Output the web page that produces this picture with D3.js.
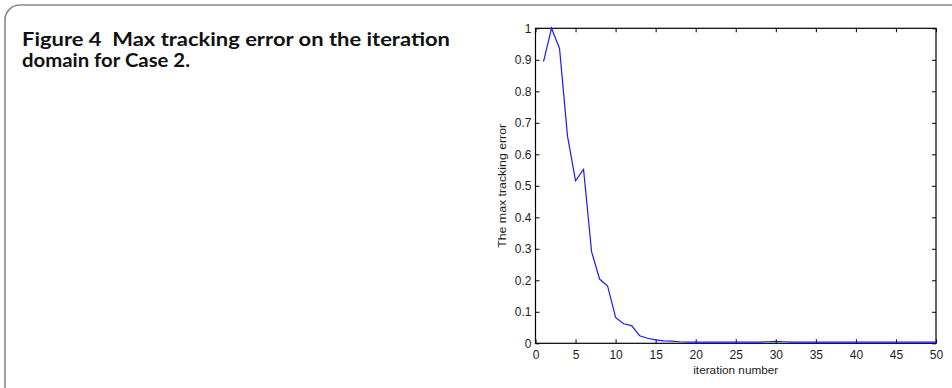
<!DOCTYPE html>
<html><head><meta charset="utf-8">
<script src="https://cdn.jsdelivr.net/npm/d3@7"></script>
<style>html,body{margin:0;padding:0;background:#fff;}svg{display:block;} text{white-space:pre;}</style>
</head><body>
<svg id="c" width="952" height="388"></svg>
<script>
const titleLines = ["Figure 4  Max tracking error on the iteration", "domain for Case 2."];
const iterations = d3.range(1, 51);
const maxError = [0.894, 1.0, 0.936, 0.657, 0.516, 0.552, 0.291, 0.204, 0.182, 0.082,
  0.062, 0.056, 0.024, 0.016, 0.011, 0.008, 0.007, 0.005, 0.004, 0.004,
  0.004, 0.004, 0.004, 0.004, 0.004, 0.004, 0.004, 0.004, 0.005, 0.006,
  0.005, 0.004, 0.004, 0.004, 0.004, 0.004, 0.004, 0.004, 0.004, 0.004,
  0.004, 0.004, 0.004, 0.004, 0.004, 0.004, 0.004, 0.004, 0.004, 0.004];
const xTicks = [0, 5, 10, 15, 20, 25, 30, 35, 40, 45, 50];
const yTicks = [0, 0.1, 0.2, 0.3, 0.4, 0.5, 0.6, 0.7, 0.8, 0.9, 1];
const xLabel = "iteration number";
const yLabel = "The max tracking error";

const svg = d3.select("#c");
// frame
svg.append("path")
  .attr("d", "M5,390 L5,20 A15,15 0 0 1 20,5 L960,5")
  .attr("fill", "none").attr("stroke", "#8a8a8a").attr("stroke-width", 1.6);

const titleWidths = [428, 168];
const t = svg.append("text").attr("font-family", "Lato, 'Open Sans', sans-serif")
  .attr("font-weight", "bold").attr("font-size", 19.5).attr("fill", "#111")
  .attr("xml:space", "preserve");
titleLines.forEach((l, i) =>
  t.append("tspan").attr("x", 22).attr("y", 46 + i * 21)
    .attr("textLength", titleWidths[i]).attr("lengthAdjust", "spacingAndGlyphs").text(l));

const L = 535.5, R = 936, T = 28.3, B = 343.3;
const x = d3.scaleLinear().domain([0, 50]).range([L, R]);
const y = d3.scaleLinear().domain([0, 1]).range([B, T]);
const font = "'Liberation Sans', Arial, sans-serif";

const g = svg.append("g");
g.append("rect").attr("x", L).attr("y", T).attr("width", R - L).attr("height", B - T)
  .attr("fill", "none").attr("stroke", "#000").attr("stroke-width", 1.2);

const ax = d3.axisBottom(x).tickValues(xTicks).tickSize(-4).tickPadding(7).tickFormat(d3.format("d"));
const axB = g.append("g").attr("transform", `translate(0,${B})`).call(ax);
const axT = g.append("g").attr("transform", `translate(0,${T})`).call(d3.axisTop(x).tickValues(xTicks).tickSize(-4).tickFormat(""));
const ay = d3.axisLeft(y).tickValues(yTicks).tickSize(-4).tickPadding(4).tickFormat(d => d === 0 || d === 1 ? d3.format("d")(d) : d3.format(".1f")(d));
const axL = g.append("g").attr("transform", `translate(${L},0)`).call(ay);
const axR = g.append("g").attr("transform", `translate(${R},0)`).call(d3.axisRight(y).tickValues(yTicks).tickSize(-4).tickFormat(""));
[axB, axT, axL, axR].forEach(a => {
  a.select(".domain").remove();
  a.selectAll("line").attr("stroke", "#000").attr("stroke-width", 1);
  a.selectAll("text").attr("font-family", font).attr("font-size", 12).attr("fill", "#222");
});

const line = d3.line().x((d, i) => x(iterations[i])).y(d => y(d));
g.append("path").datum(maxError).attr("d", line)
  .attr("fill", "none").attr("stroke", "#1a1aff").attr("stroke-width", 1.2);

g.append("text").attr("x", (L + R) / 2).attr("y", 374).attr("text-anchor", "middle")
  .attr("font-family", font).attr("font-size", 11.8).attr("fill", "#222")
  .attr("textLength", 85).attr("lengthAdjust", "spacingAndGlyphs").text(xLabel);
g.append("text").attr("transform", `translate(506,${(T + B) / 2}) rotate(-90)`).attr("text-anchor", "middle")
  .attr("font-family", font).attr("font-size", 11.5).attr("fill", "#222")
  .attr("textLength", 124).attr("lengthAdjust", "spacingAndGlyphs").text(yLabel);
</script>
</body></html>
